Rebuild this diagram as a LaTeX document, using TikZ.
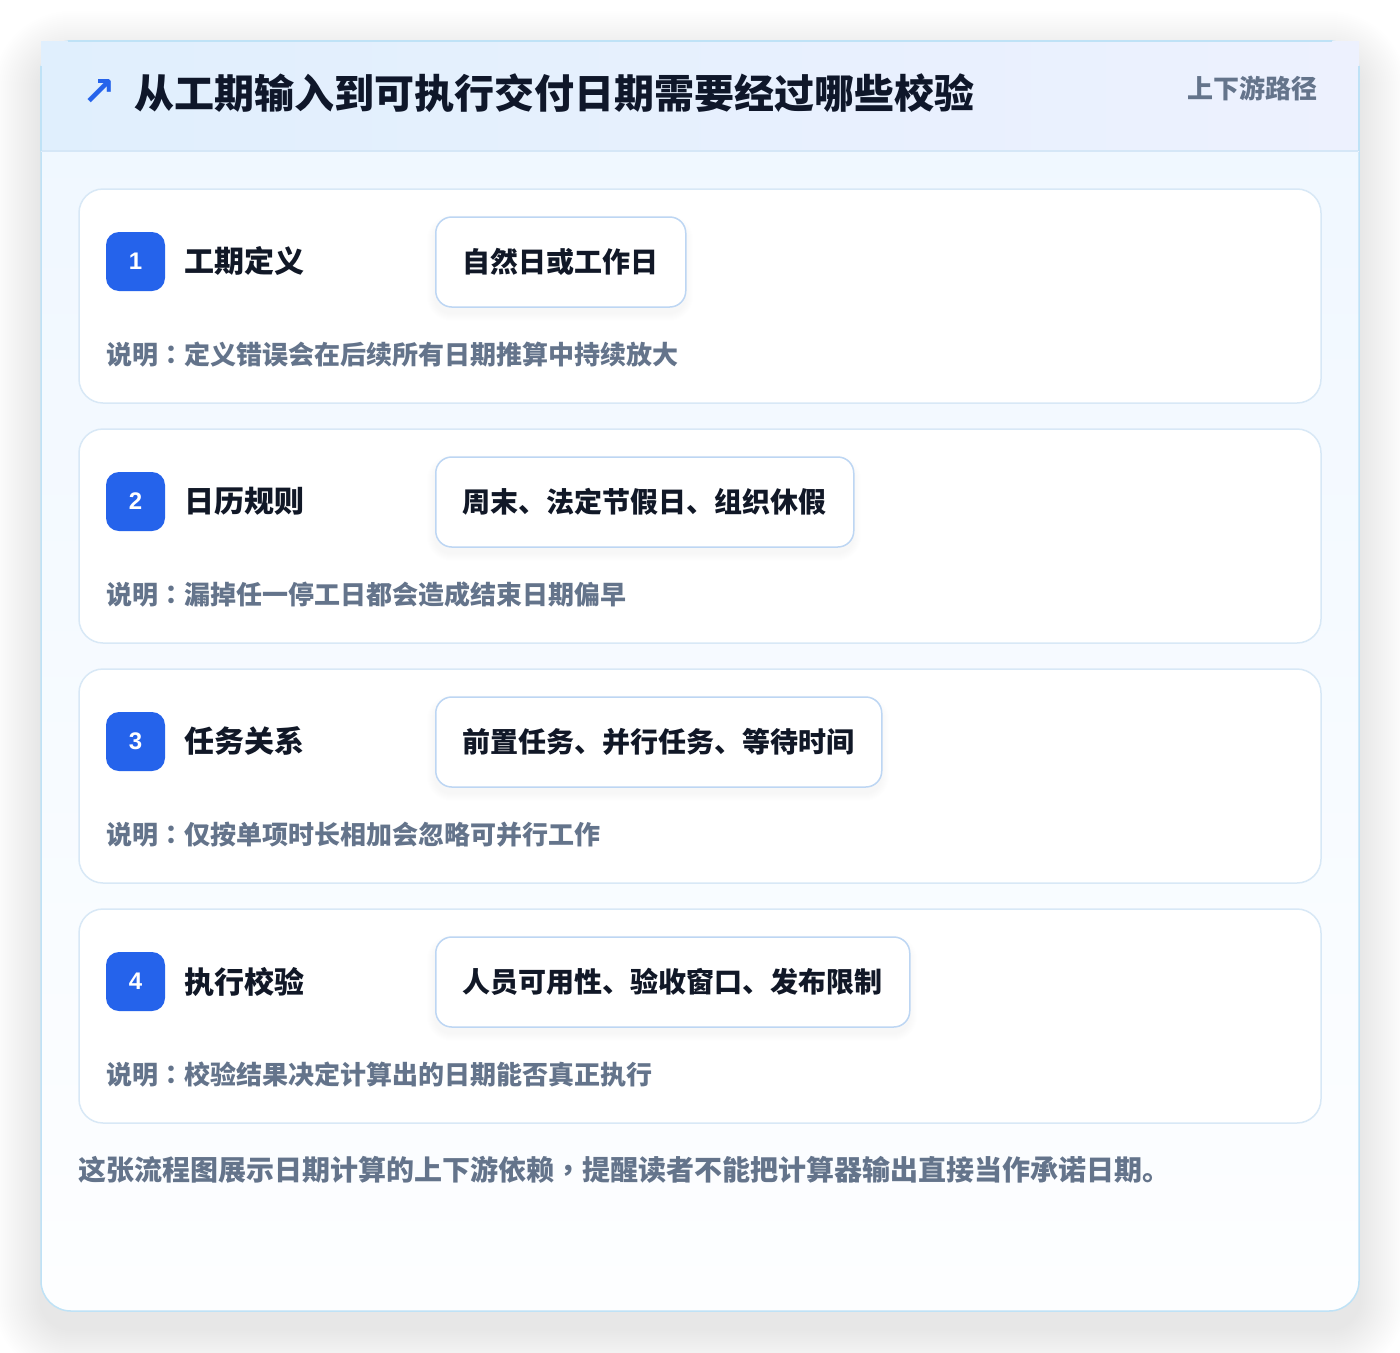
\documentclass[tikz,border=0pt]{standalone}
\usepackage{fontspec}
\setmainfont{Noto Sans CJK SC}
\newfontfamily\tcpunct{Noto Sans CJK TC}
\newfontfamily\numfont{Liberation Sans}
\newfontfamily\symfont{DejaVu Sans}
\definecolor{outerline}{HTML}{BFE2F6}
\definecolor{headL}{HTML}{E0EFFD}
\definecolor{headR}{HTML}{EDF1FE}
\definecolor{headline}{HTML}{D5E7F7}
\definecolor{bodytop}{HTML}{EFF7FF}
\definecolor{bodybot}{HTML}{FDFEFF}
\definecolor{cardline}{HTML}{D8E8F6}
\definecolor{chipline}{HTML}{BDD6F3}
\definecolor{badgeblue}{HTML}{2563EB}
\definecolor{titletext}{HTML}{0F172A}
\definecolor{labeltext}{HTML}{111827}
\definecolor{desctext}{HTML}{64748B}
\newcommand{\cpunct}[1]{{\tcpunct\bfseries #1}}
\tikzset{
  stepcard/.style={draw=cardline, line width=1.5pt, rounded corners=24pt, fill=white,
    minimum width=1242pt, minimum height=214pt, inner sep=0pt},
  chip/.style={draw=chipline, line width=1.5pt, rounded corners=16pt, fill=white,
    minimum height=90pt, inner xsep=0pt, anchor=west,
    font=\fontsize{28}{28}\selectfont\bfseries, text=labeltext},
  badge/.style={fill=badgeblue, rounded corners=13pt, minimum width=59pt, minimum height=59pt,
    inner sep=0pt, text=white, font=\fontsize{24}{24}\selectfont\numfont\bfseries},
  steplabel/.style={anchor=west, inner sep=0pt, text=labeltext, font=\fontsize{30}{30}\selectfont\bfseries},
  desc/.style={anchor=west, inner sep=0pt, text=desctext, font=\fontsize{26}{26}\selectfont\bfseries},
  softshadow/.style={black, opacity=0.004},
}
\begin{document}
\begin{tikzpicture}[x=1pt,y=-1pt]
\path[use as bounding box, fill=white] (0,0) rectangle (1400,1352);
% soft shadow of outer card
\foreach \i in {1,...,24}{
  \fill[softshadow, rounded corners={30pt+2*\i pt}] ({41-2*\i},{41-2*\i+18}) rectangle ({1359+2*\i},{1311+2*\i+18});
}
% outer card
\path[rounded corners=30pt, top color=bodytop, bottom color=bodybot] (41,41) rectangle (1359,1311);
\draw[outerline, line width=1.5pt, rounded corners=30pt] (41,41) rectangle (1359,1311);
\fill[left color=headL, right color=headR] (41,41) rectangle (1359,151);
\draw[outerline, line width=1.5pt] (68,41) -- (1332,41);
\draw[outerline, line width=1.5pt] (41,66) -- (41,151);
\draw[outerline, line width=1.5pt] (1359,66) -- (1359,151);
\draw[headline, line width=1.5pt] (41.75,151) -- (1358.25,151);
% header
\node[anchor=center, inner sep=0pt, text=badgeblue, font=\fontsize{40}{40}\selectfont\symfont\bfseries] (arrow) at (99,93) {↗};
\node[anchor=west, inner sep=0pt, text=titletext, font=\fontsize{40}{40}\selectfont\bfseries] (title) at (134,93) {从工期输入到可执行交付日期需要经过哪些校验};
\node[anchor=east, inner sep=0pt, text=desctext, font=\fontsize{26}{26}\selectfont\bfseries] (tag) at (1318,88) {上下游路径};
% step cards
\node[stepcard] (card1) at (700,296) {};
\node[stepcard] (card2) at (700,536) {};
\node[stepcard] (card3) at (700,776) {};
\node[stepcard] (card4) at (700,1016) {};
% chip shadows
\foreach \cx/\cy/\w in {435/217/250, 435/457/418, 435/697/446, 435/937/474}{
  \foreach \i in {1,...,8}{
    \fill[black, opacity=0.004, rounded corners={16pt+\i pt}] ({\cx-\i},{\cy-\i+6}) rectangle ({\cx+\w+\i},{\cy+90+\i+6});
  }
}
% step 1
\node[badge] (b1) at (135.5,261.5) {1};
\node[steplabel] (l1) at (184,261) {工期定义};
\node[chip, minimum width=250pt] (c1) at (435,262) {自然日或工作日};
\node[desc] (d1) at (106,355) {说明\cpunct{：}定义错误会在后续所有日期推算中持续放大};
% step 2
\node[badge] (b2) at (135.5,501.5) {2};
\node[steplabel] (l2) at (184,501) {日历规则};
\node[chip, minimum width=418pt] (c2) at (435,502) {周末、法定节假日、组织休假};
\node[desc] (d2) at (106,595) {说明\cpunct{：}漏掉任一停工日都会造成结束日期偏早};
% step 3
\node[badge] (b3) at (135.5,741.5) {3};
\node[steplabel] (l3) at (184,741) {任务关系};
\node[chip, minimum width=446pt] (c3) at (435,742) {前置任务、并行任务、等待时间};
\node[desc] (d3) at (106,835) {说明\cpunct{：}仅按单项时长相加会忽略可并行工作};
% step 4
\node[badge] (b4) at (135.5,981.5) {4};
\node[steplabel] (l4) at (184,982) {执行校验};
\node[chip, minimum width=474pt] (c4) at (435,982) {人员可用性、验收窗口、发布限制};
\node[desc] (d4) at (106,1075) {说明\cpunct{：}校验结果决定计算出的日期能否真正执行};
% footer
\node[anchor=west, inner sep=0pt, text=desctext, font=\fontsize{28}{28}\selectfont\bfseries] (foot) at (78,1170) {这张流程图展示日期计算的上下游依赖\cpunct{，}提醒读者不能把计算器输出直接当作承诺日期。};
\end{tikzpicture}
\end{document}
